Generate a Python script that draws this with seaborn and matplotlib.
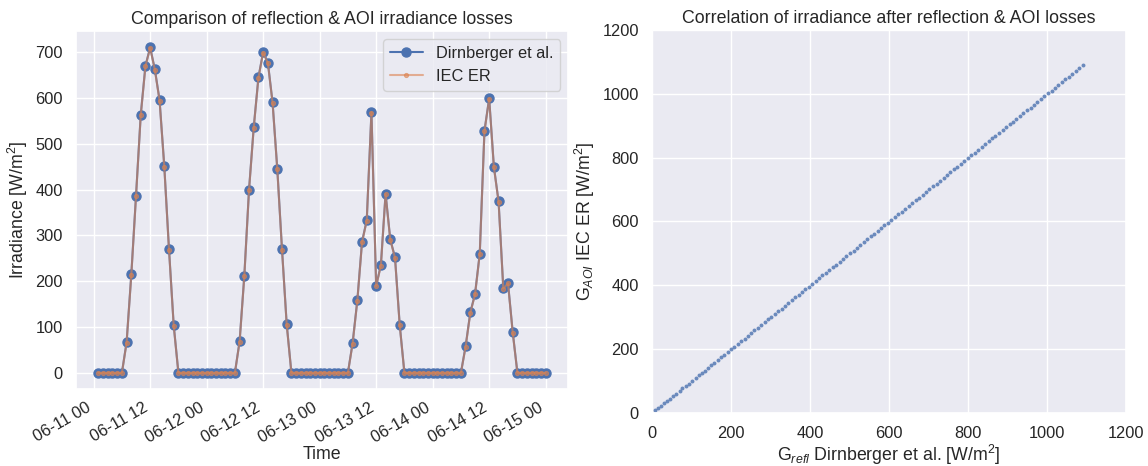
import seaborn as sns
import matplotlib.pyplot as plt
import matplotlib.dates as mdates
import pandas as pd

# hourly irradiance after reflection / AOI losses, 06-11 01:00 .. 06-15 00:00
START = "2019-06-11 01:00"
END = "2019-06-15 00:00"

dirnberger = [
    0, 0, 0, 0, 0, 0, 67, 215, 387, 563, 670, 710, 662, 595, 451, 270, 104,
    0, 0, 0, 0, 0, 0,
    0, 0, 0, 0, 0, 0, 0, 69, 212, 400, 536, 645, 700, 677, 590, 445, 270, 106,
    0, 0, 0, 0, 0, 0,
    0, 0, 0, 0, 0, 0, 0, 65, 158, 286, 333, 569, 190, 235, 391, 291, 252, 105,
    0, 0, 0, 0, 0, 0,
    0, 0, 0, 0, 0, 0, 0, 58, 132, 172, 260, 528, 599, 450, 374, 185, 196, 89,
    0, 0, 0, 0, 0, 0,
    0,
]
iec_er = [
    0, 0, 0, 0, 0, 0, 66, 214, 386, 562, 669, 709, 661, 594, 450, 269, 103,
    0, 0, 0, 0, 0, 0,
    0, 0, 0, 0, 0, 0, 0, 68, 211, 399, 535, 644, 699, 676, 589, 444, 269, 105,
    0, 0, 0, 0, 0, 0,
    0, 0, 0, 0, 0, 0, 0, 64, 157, 285, 332, 568, 189, 234, 390, 290, 251, 104,
    0, 0, 0, 0, 0, 0,
    0, 0, 0, 0, 0, 0, 0, 57, 131, 171, 259, 527, 598, 449, 373, 184, 195, 88,
    0, 0, 0, 0, 0, 0,
    0,
]

# correlation over the whole period (G_refl vs G_AOI)
g_refl = [
    8, 15, 22, 31, 38, 46, 53, 61, 70, 77, 85, 93, 101, 110, 118, 126, 133,
    141, 150, 158, 167, 175, 183, 192, 200, 208, 217, 225, 234, 242, 251, 259,
    268, 276, 285, 293, 302, 311, 319, 328, 336, 345, 354, 362, 371, 380, 388,
    397, 405, 414, 423, 431, 440, 449, 457, 466, 475, 484, 492, 501, 510, 518,
    527, 536, 545, 553, 562, 571, 580, 588, 597, 606, 615, 623, 632, 641, 650,
    659, 667, 676, 685, 694, 702, 711, 720, 729, 738, 746, 755, 764, 773, 781,
    790, 799, 808, 817, 825, 834, 843, 852, 861, 869, 878, 887, 896, 905, 913,
    922, 931, 940, 949, 958, 966, 975, 984, 993, 1002, 1011, 1019, 1028, 1037,
    1046, 1055, 1064, 1072, 1081, 1090,
]
g_aoi = [
    8, 15, 21, 31, 38, 45, 53, 61, 69, 77, 85, 92, 101, 109, 118, 125, 133,
    141, 149, 158, 166, 175, 183, 191, 200, 208, 216, 225, 233, 242, 250, 259,
    267, 276, 284, 293, 301, 310, 319, 327, 336, 344, 353, 362, 370, 379, 388,
    396, 405, 413, 422, 431, 439, 448, 457, 465, 474, 483, 492, 500, 509, 518,
    526, 535, 544, 553, 561, 570, 579, 588, 596, 605, 614, 623, 631, 640, 649,
    658, 667, 675, 684, 693, 702, 710, 719, 728, 737, 746, 754, 763, 772, 781,
    789, 798, 807, 816, 825, 833, 842, 851, 860, 869, 877, 886, 895, 904, 913,
    921, 930, 939, 948, 957, 966, 974, 983, 992, 1001, 1010, 1019, 1027, 1036,
    1045, 1054, 1063, 1072, 1080, 1089,
]

sns.set_theme(rc={
    "axes.titlesize": 12.8, "axes.labelsize": 12.8,
    "xtick.labelsize": 11.8, "ytick.labelsize": 11.8,
    "legend.fontsize": 11.8,
})
plt.rcParams['font.family'] = ['Liberation Sans', 'DejaVu Sans']
plt.rcParams['mathtext.fontset'] = 'custom'
plt.rcParams['mathtext.rm'] = 'Liberation Sans'
plt.rcParams['mathtext.it'] = 'Liberation Sans:italic'

blue, orange = sns.color_palette("deep")[:2]

times = pd.date_range(START, END, freq="h")
df = pd.DataFrame({"time": times, "dirnberger": dirnberger, "iec": iec_er})

fig = plt.figure(figsize=(11.48, 4.66), dpi=100)
ax1 = fig.add_axes([0.0662, 0.165, 0.4286, 0.768])
ax2 = fig.add_axes([0.568, 0.1137, 0.413, 0.822])

sns.lineplot(data=df, x="time", y="dirnberger", ax=ax1, color=blue,
             marker="o", markersize=6.5, mec=blue, mew=1,
             label="Dirnberger et al.")
sns.lineplot(data=df, x="time", y="iec", ax=ax1, color=orange,
             marker=".", mec=orange, alpha=0.6, label="IEC ER")
ax1.xaxis.set_major_locator(mdates.HourLocator(byhour=[0, 12]))
ax1.xaxis.set_major_formatter(mdates.DateFormatter("%m-%d %H"))
ax1.tick_params(axis="x", pad=2)
for lbl in ax1.get_xticklabels():
    lbl.set_rotation(30)
    lbl.set_ha("right")
ax1.set_xlabel("Time", labelpad=0)
ax1.set_ylabel("Irradiance [W/m$^2$]")
ax1.set_title("Comparison of reflection & AOI irradiance losses", pad=5)
ax1.legend(loc="upper right")

sns.scatterplot(x=g_refl, y=g_aoi, ax=ax2, color=blue, s=8,
                linewidth=0, alpha=0.8)
ax2.set_xlim(0, 1200)
ax2.set_ylim(0, 1200)
ax2.set_xlabel("G$_{refl}$ Dirnberger et al. [W/m$^2$]", labelpad=1)
ax2.set_ylabel("G$_{AOI}$ IEC ER [W/m$^2$]")
ax2.set_title("Correlation of irradiance after reflection & AOI losses", pad=5)

fig.savefig("out.png", dpi=100)
